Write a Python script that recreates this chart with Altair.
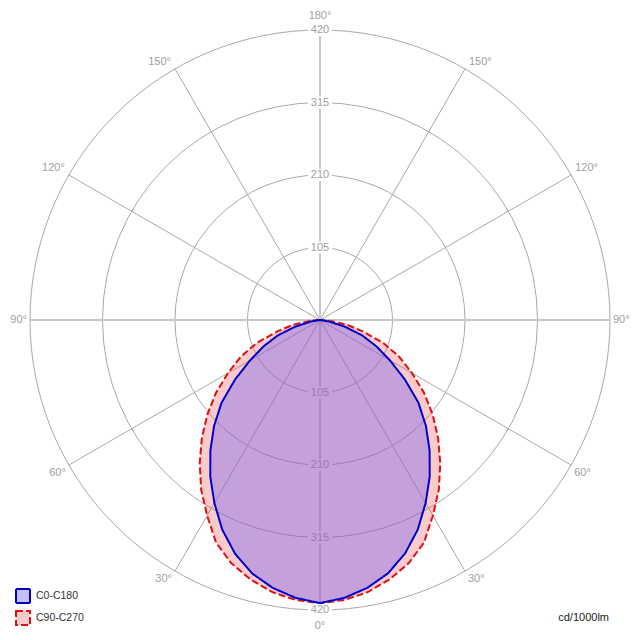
import math
import altair as alt
import pandas as pd

# ---------------- data ----------------
GAMMA = [0, 5, 10, 15, 20, 25, 30, 35, 40, 45, 50, 55, 60, 65, 70, 75, 80, 85, 90]
C0_C180 = [410, 404, 394, 380, 360, 335, 306, 277, 247, 217, 186, 150, 117, 90, 65, 37, 13, 4, 0]
C90_C270 = [410, 407, 400, 389, 375, 356, 327, 300, 271, 242, 213, 184, 154, 127, 98, 64, 40, 15, 0]
SERIES = ["C0-C180", "C90-C270"]
RINGS = [105, 210, 315, 420]
SPOKES = [0, 30, 60, 90, 120, 150, 180, 210, 240, 270, 300, 330]
UNIT = "cd/1000lm"

RMAX = 420
PX = 312                      # half size of plot area in px
D = RMAX * PX / 290.0         # data half-extent so that 420 -> 290 px

rows = []
for s, vals in zip(SERIES, [C0_C180, C90_C270]):
    for g, v in zip(GAMMA, vals):
        rows.append({"series": s, "gamma": g, "I": v})
lum = pd.DataFrame(rows)

spk = pd.DataFrame({"theta": SPOKES})
spk["major"] = spk["theta"] % 90 == 0
spk["label"] = [f"{min(t, 360 - t)}°" for t in SPOKES]

ring_rows = []
for r in RINGS:
    for sgn in (1, -1):
        ring_rows.append({"r": r, "sgn": sgn})
rng = pd.DataFrame(ring_rows)

FONT = "Liberation Sans"
GRID = "#a9a9a9"
MAJOR = "#c8c8c8"
LBL = "#a0a0a0"

xs = alt.Scale(domain=[-D, D], nice=False, zero=False)
ys = alt.Scale(domain=[-D, D], nice=False, zero=False)

# ---------------- grid ----------------
rings = alt.Chart(pd.DataFrame({"r": RINGS})).mark_arc(
    theta=0, theta2=2 * math.pi, filled=False, stroke=GRID, strokeWidth=1
).encode(
    radius=alt.Radius("r:Q", stack=None,
                      scale=alt.Scale(type="linear", domain=[0, D], range=[0, PX], zero=True))
)

spoke_base = alt.Chart(spk).transform_calculate(
    x0="0", y0="0",
    x1=f"{RMAX}*sin(datum.theta*PI/180)",
    y1=f"-{RMAX}*cos(datum.theta*PI/180)",
)
minor = spoke_base.transform_filter("!datum.major").mark_rule(color=GRID, strokeWidth=1).encode(
    x=alt.X("x0:Q", scale=xs, axis=None), y=alt.Y("y0:Q", scale=ys, axis=None), x2="x1:Q", y2="y1:Q"
)
major = spoke_base.transform_filter("datum.major").mark_rule(color=MAJOR, strokeWidth=2).encode(
    x=alt.X("x0:Q", scale=xs, axis=None), y=alt.Y("y0:Q", scale=ys, axis=None), x2="x1:Q", y2="y1:Q"
)

ring_base = alt.Chart(rng).transform_calculate(x="0", y="datum.r*datum.sgn")
boxes = ring_base.mark_point(
    shape="M-1,-0.5H1V0.5H-1Z", size=576, filled=True, color="white", opacity=1, strokeWidth=0
).encode(x=alt.X("x:Q", scale=xs, axis=None), y=alt.Y("y:Q", scale=ys, axis=None))
ring_txt = ring_base.mark_text(font=FONT, fontSize=11, color=LBL, align="center", baseline="middle").encode(
    x=alt.X("x:Q", scale=xs, axis=None), y=alt.Y("y:Q", scale=ys, axis=None), text=alt.Text("r:Q")
)

# angle labels: groups by position (style only)
groups = [
    ([30, 60], "left", "top", 3, 2),
    ([90], "left", "middle", 3, 0),
    ([120, 150], "left", "bottom", 4, -2),
    ([180], "center", "bottom", 0, -9),
    ([210, 240], "right", "bottom", -4, -2),
    ([270], "right", "middle", -3, 0),
    ([300, 330], "right", "top", -3, 2),
    ([0], "center", "top", 0, 10),
]
ang_layers = []
for thetas, al, bl, dx, dy in groups:
    ang_layers.append(
        alt.Chart(spk).transform_filter(alt.FieldOneOfPredicate(field="theta", oneOf=thetas)).transform_calculate(
            x=f"{RMAX}*sin(datum.theta*PI/180)", y=f"-{RMAX}*cos(datum.theta*PI/180)"
        ).mark_text(font=FONT, fontSize=11, color=LBL, align=al, baseline=bl, dx=dx, dy=dy).encode(
            x=alt.X("x:Q", scale=xs, axis=None), y=alt.Y("y:Q", scale=ys, axis=None), text="label:N"
        )
    )

# ---------------- intensity curves ----------------
leg = alt.Legend(
    title=None, orient="none", legendX=7, legendY=580, symbolType="square", symbolSize=196,
    symbolStrokeWidth=2, labelFont=FONT, labelFontSize=10.5, labelColor="#333333",
    labelOffset=5, rowPadding=0, padding=0
)
fill_sc = alt.Scale(domain=SERIES, range=["rgba(120,102,238,0.42)", "rgba(240,70,70,0.28)"])
stroke_sc = alt.Scale(domain=SERIES, range=["#0000cc", "#dd1111"])
dash_sc = alt.Scale(domain=SERIES, range=[[1, 0], [7, 3]])


def area_layer(name):
    return alt.Chart(lum).transform_filter(alt.datum.series == name).transform_calculate(
        xr="datum.I*sin(datum.gamma*PI/180)",
        xl="-datum.I*sin(datum.gamma*PI/180)",
        y="-datum.I*cos(datum.gamma*PI/180)",
    ).mark_area(orient="horizontal", strokeWidth=0).encode(
        x=alt.X("xl:Q", scale=xs, axis=None),
        x2="xr:Q",
        y=alt.Y("y:Q", scale=ys, axis=None),
        fill=alt.Fill("series:N", scale=fill_sc, legend=leg),
    )


def line_layer(name):
    # closed outline: left half (C180 / C270) from centre down, right half (C0 / C90) back up
    return alt.Chart(lum).transform_filter(alt.datum.series == name).transform_calculate(
        xr="datum.I*sin(datum.gamma*PI/180)",
        xl="-datum.I*sin(datum.gamma*PI/180)",
        y="-datum.I*cos(datum.gamma*PI/180)",
    ).transform_fold(["xl", "xr"], as_=["side", "px"]).transform_calculate(
        ord="datum.side == 'xl' ? 90 - datum.gamma : 90 + datum.gamma"
    ).mark_line(strokeWidth=2, strokeJoin="round").encode(
        x=alt.X("px:Q", scale=xs, axis=None),
        y=alt.Y("y:Q", scale=ys, axis=None),
        order=alt.Order("ord:Q"),
        stroke=alt.Stroke("series:N", scale=stroke_sc, legend=leg),
        strokeDash=alt.StrokeDash("series:N", scale=dash_sc, legend=leg),
    )


unit = alt.Chart(pd.DataFrame({"t": [UNIT]})).mark_text(
    font=FONT, fontSize=11, color="#222222", align="right", baseline="middle"
).encode(x=alt.value(601), y=alt.value(609.5), text="t:N")

chart = alt.layer(
    rings, minor, major, boxes, ring_txt, *ang_layers,
    area_layer("C90-C270"), line_layer("C90-C270"),
    area_layer("C0-C180"), line_layer("C0-C180"),
    unit
).properties(
    width=2 * PX, height=2 * PX, padding=0, autosize=alt.AutoSizeParams(type="none")
).configure_view(strokeWidth=0)

chart.save("out.html", embed_options={"renderer": "svg", "actions": False})
